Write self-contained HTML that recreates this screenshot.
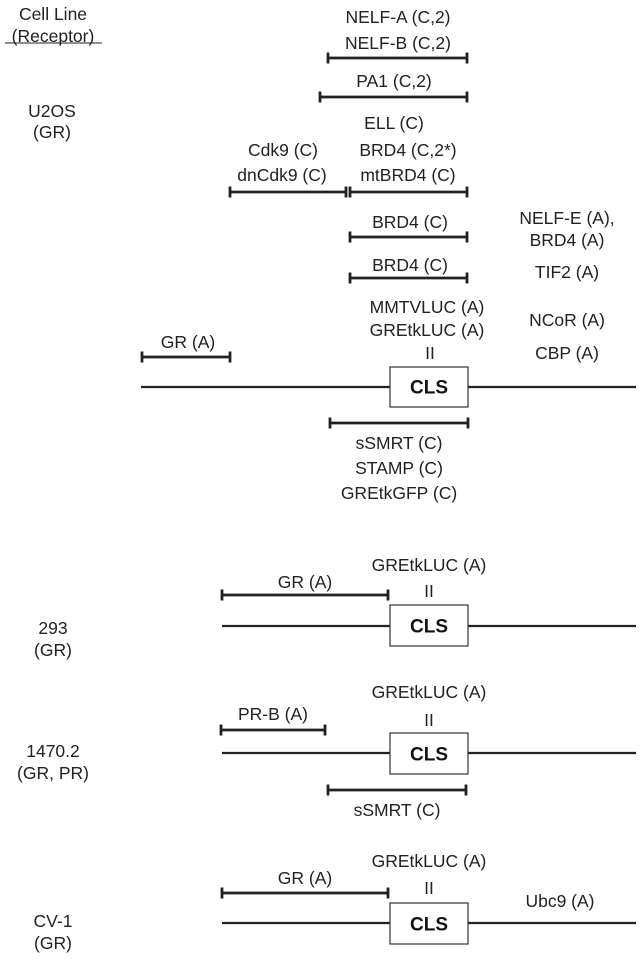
<!DOCTYPE html>
<html><head><meta charset="utf-8"><style>
html,body{margin:0;padding:0;background:#fff;}
svg{display:block;}
text{font-family:"Liberation Sans",Arial,sans-serif;font-size:17.5px;fill:#222;text-anchor:middle;dominant-baseline:central;}
.b{font-weight:bold;font-size:19px;fill:#111;}
line{stroke:#222;}
</style></head><body>
<svg width="641" height="960" viewBox="0 0 641 960">
<defs>
<g id="t"><line x1="0" y1="-5.5" x2="0" y2="5.5" stroke-width="2.8"/></g>
</defs>
<!-- left labels -->
<text x="53" y="14">Cell Line</text>
<text x="53" y="36">(Receptor)</text>
<line x1="5" y1="43" x2="102" y2="43" stroke-width="1"/>
<text x="52" y="111">U2OS</text>
<text x="52" y="132">(GR)</text>
<text x="53" y="628">293</text>
<text x="53" y="650">(GR)</text>
<text x="53" y="751">1470.2</text>
<text x="53" y="773">(GR, PR)</text>
<text x="53" y="921">CV-1</text>
<text x="53" y="943">(GR)</text>

<!-- U2OS panel -->
<text x="398" y="17">NELF-A (C,2)</text>
<text x="398" y="43">NELF-B (C,2)</text>
<line x1="328" y1="58" x2="467" y2="58" stroke-width="2.8"/>
<use href="#t" x="328" y="58"/><use href="#t" x="467" y="58"/>
<text x="394" y="81">PA1 (C,2)</text>
<line x1="320" y1="97" x2="467" y2="97" stroke-width="2.8"/>
<use href="#t" x="320" y="97"/><use href="#t" x="467" y="97"/>
<text x="394" y="123">ELL (C)</text>
<text x="408" y="150">BRD4 (C,2*)</text>
<text x="283" y="150">Cdk9 (C)</text>
<text x="282" y="175">dnCdk9 (C)</text>
<text x="408" y="175">mtBRD4 (C)</text>
<line x1="230" y1="192" x2="346" y2="192" stroke-width="2.8"/>
<use href="#t" x="230" y="192"/><use href="#t" x="346" y="192"/>
<line x1="350" y1="192" x2="467" y2="192" stroke-width="2.8"/>
<use href="#t" x="350" y="192"/><use href="#t" x="467" y="192"/>
<text x="410" y="222">BRD4 (C)</text>
<line x1="350" y1="237" x2="467" y2="237" stroke-width="2.8"/>
<use href="#t" x="350" y="237"/><use href="#t" x="467" y="237"/>
<text x="410" y="265">BRD4 (C)</text>
<line x1="350" y1="278" x2="467" y2="278" stroke-width="2.8"/>
<use href="#t" x="350" y="278"/><use href="#t" x="467" y="278"/>
<text x="427" y="307">MMTVLUC (A)</text>
<text x="427" y="330">GREtkLUC (A)</text>
<text x="430" y="353">II</text>
<text x="188" y="342">GR (A)</text>
<line x1="142" y1="357" x2="230" y2="357" stroke-width="2.8"/>
<use href="#t" x="142" y="357"/><use href="#t" x="230" y="357"/>
<text x="567" y="218">NELF-E (A),</text>
<text x="567" y="240">BRD4 (A)</text>
<text x="567" y="272">TIF2 (A)</text>
<text x="567" y="320">NCoR (A)</text>
<text x="567" y="353">CBP (A)</text>
<line x1="141" y1="387" x2="636" y2="387" stroke-width="2.2"/>
<rect x="390" y="367" width="78" height="40" fill="#fff" stroke="#333" stroke-width="1.2"/>
<text class="b" x="429" y="388">CLS</text>
<line x1="330" y1="423" x2="468" y2="423" stroke-width="2.8"/>
<use href="#t" x="330" y="423"/><use href="#t" x="468" y="423"/>
<text x="399" y="443">sSMRT (C)</text>
<text x="399" y="468">STAMP (C)</text>
<text x="399" y="493">GREtkGFP (C)</text>

<!-- 293 panel -->
<text x="429" y="565">GREtkLUC (A)</text>
<text x="305" y="582">GR (A)</text>
<text x="429" y="591">II</text>
<line x1="222" y1="595" x2="388" y2="595" stroke-width="2.8"/>
<use href="#t" x="222" y="595"/><use href="#t" x="388" y="595"/>
<line x1="222" y1="626" x2="636" y2="626" stroke-width="2.2"/>
<rect x="390" y="605" width="78" height="41" fill="#fff" stroke="#333" stroke-width="1.2"/>
<text class="b" x="429" y="627">CLS</text>

<!-- 1470.2 panel -->
<text x="429" y="692">GREtkLUC (A)</text>
<text x="273" y="714">PR-B (A)</text>
<text x="429" y="720">II</text>
<line x1="221" y1="730" x2="325" y2="730" stroke-width="2.8"/>
<use href="#t" x="221" y="730"/><use href="#t" x="325" y="730"/>
<line x1="222" y1="753" x2="636" y2="753" stroke-width="2.2"/>
<rect x="390" y="733" width="78" height="41" fill="#fff" stroke="#333" stroke-width="1.2"/>
<text class="b" x="429" y="755">CLS</text>
<line x1="328" y1="790" x2="466" y2="790" stroke-width="2.8"/>
<use href="#t" x="328" y="790"/><use href="#t" x="466" y="790"/>
<text x="397" y="810">sSMRT (C)</text>

<!-- CV-1 panel -->
<text x="429" y="861">GREtkLUC (A)</text>
<text x="305" y="878">GR (A)</text>
<text x="429" y="888">II</text>
<line x1="222" y1="893" x2="388" y2="893" stroke-width="2.8"/>
<use href="#t" x="222" y="893"/><use href="#t" x="388" y="893"/>
<text x="560" y="901">Ubc9 (A)</text>
<line x1="222" y1="923" x2="636" y2="923" stroke-width="2.2"/>
<rect x="390" y="903" width="78" height="41" fill="#fff" stroke="#333" stroke-width="1.2"/>
<text class="b" x="429" y="925">CLS</text>
</svg>
</body></html>
